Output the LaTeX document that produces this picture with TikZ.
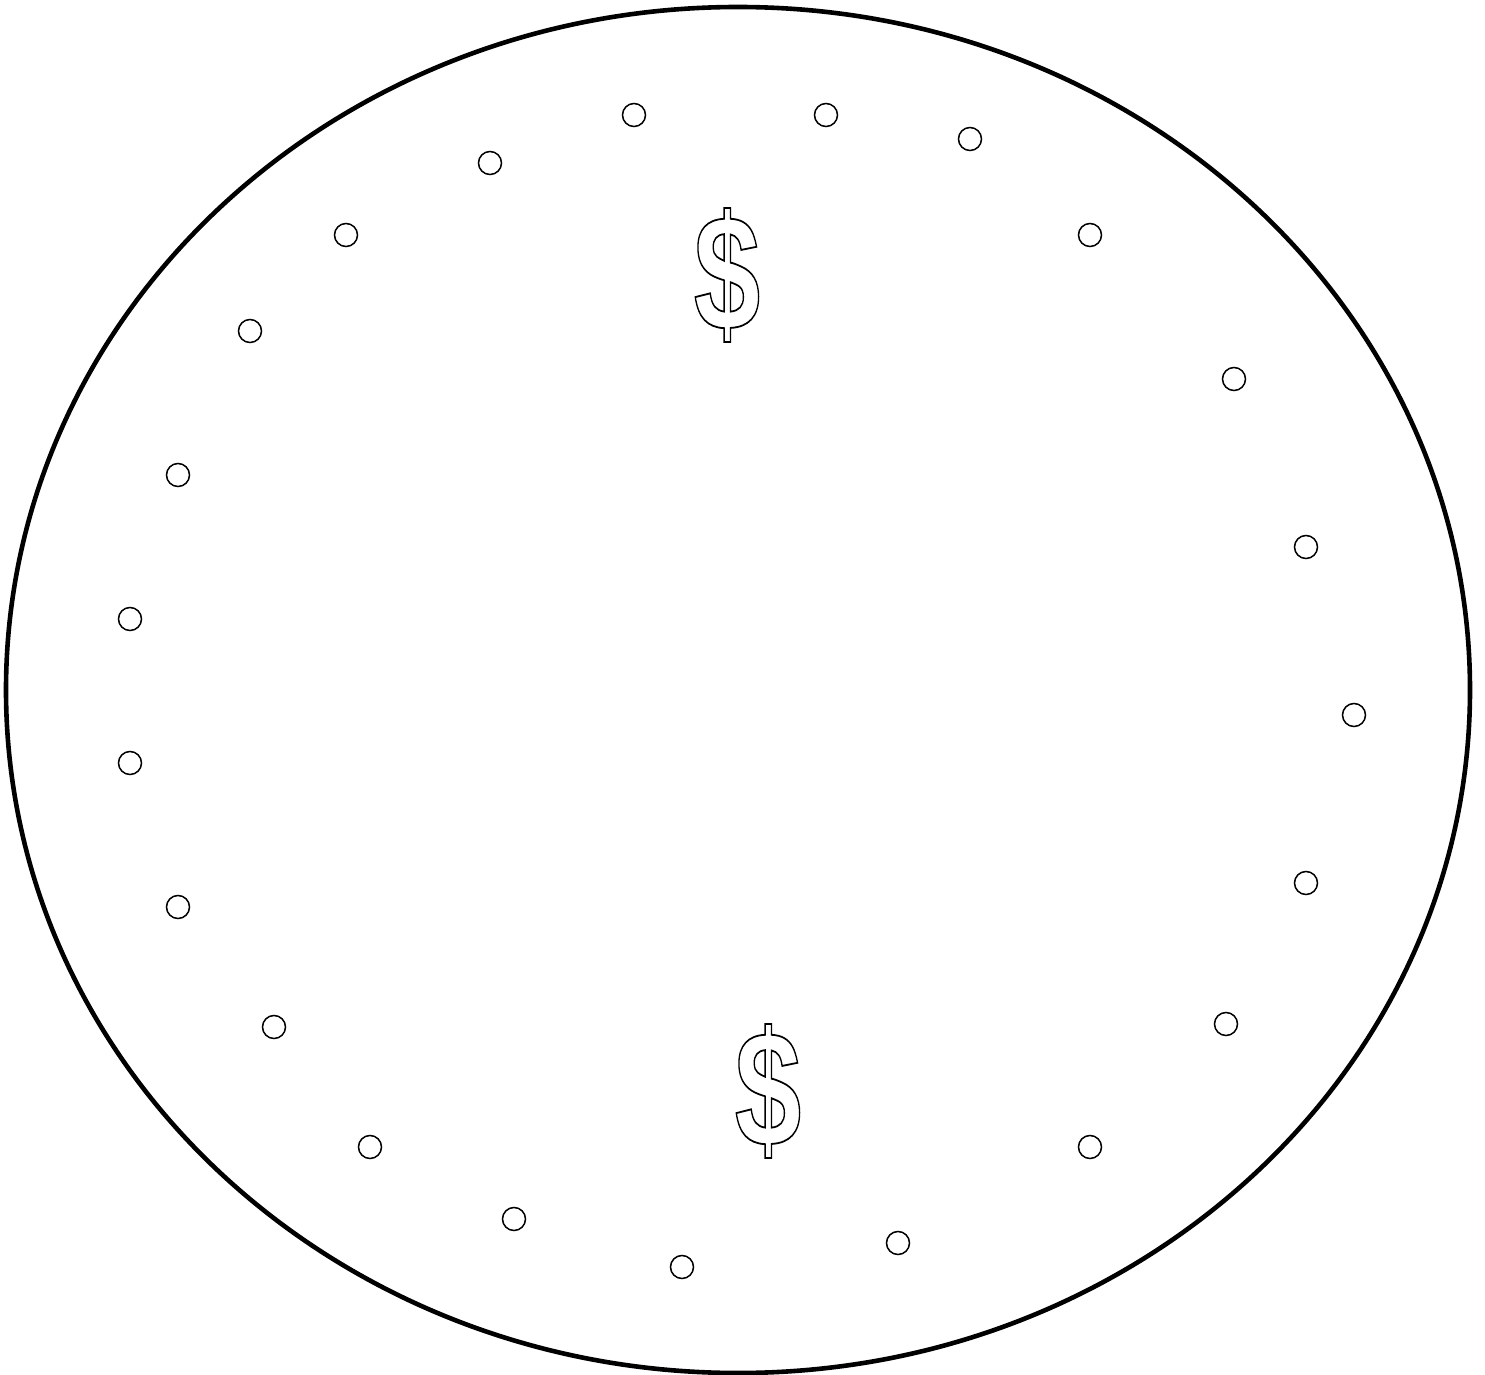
\documentclass[tikz,border=0pt]{standalone}
\usepackage{fontspec}
\newfontfamily\dollarfont{Liberation Sans Bold}
\newcommand{\outlined}[1]{\special{pdf:code 1 Tr 0.9 w}#1\special{pdf:code 0 Tr}}
\begin{document}
\begin{tikzpicture}[x=0.5pt,y=-0.5pt,
  dot/.style={circle,draw,line width=0.75pt,minimum size=11.5pt,inner sep=0pt},
  money/.style={inner sep=0pt,font=\dollarfont\fontsize{82}{82}\selectfont,xscale=0.73,transform shape}]
\useasboundingbox (0,0) rectangle (1485,1375);
\draw[line width=2.3pt] (738,690) ellipse [x radius=732, y radius=683];
\foreach \x/\y [count=\i] in {634/115,826/115,970/139,1090/235,1234/379,1306/547,1354/715,1306/883,1226/1024,1090/1147,898/1243,682/1267,514/1219,370/1147,274/1027,178/907,130/763,130/619,178/475,250/331,346/235,490/163}
  \node[dot] (d\i) at (\x,\y) {};
\node[money] (m1) at (727,275) {\outlined{\$}};
\node[money] (m2) at (768,1091) {\outlined{\$}};
\end{tikzpicture}
\end{document}
